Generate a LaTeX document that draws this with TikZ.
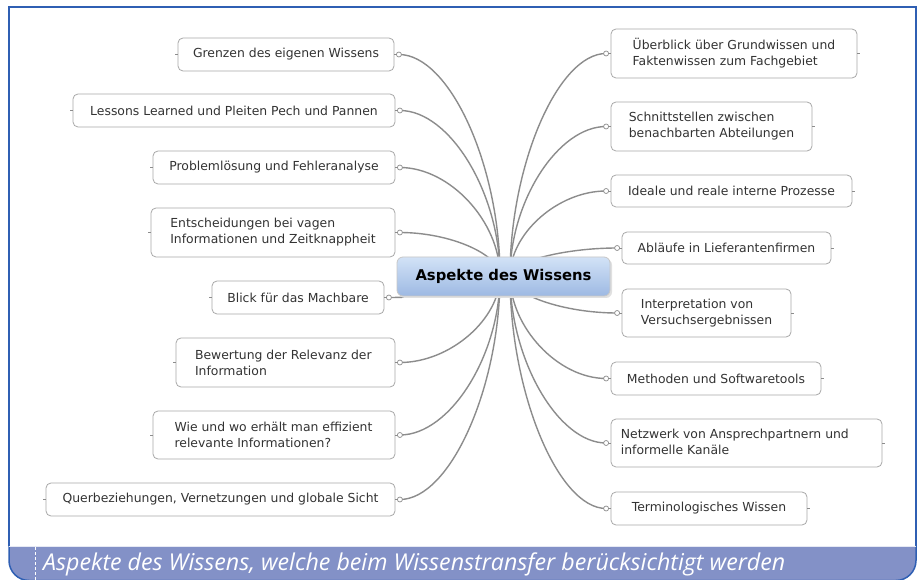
\documentclass[tikz,border=0pt]{standalone}
\usepackage{fontspec}
\usetikzlibrary{calc}
\newfontfamily\boxfont{DejaVu Sans}
\newfontfamily\capfont{Open Sans}
\definecolor{framecol}{HTML}{2F5FB3}
\definecolor{bandcol}{HTML}{8391C7}
\definecolor{conncol}{HTML}{8C8C8C}
\definecolor{boxborder}{HTML}{A8A8A8}
\definecolor{txtcol}{HTML}{333333}
\definecolor{centtop}{HTML}{D2E2F6}
\definecolor{centbot}{HTML}{9DB9E3}
\tikzset{
  mbox/.style={draw=boxborder, line width=0.8pt, fill=white, rounded corners=5pt,
    inner sep=0pt, align=left, text=txtcol,
    font=\boxfont\fontsize{12.4}{16}\selectfont},
  conn/.style={draw=conncol, line width=1.4pt},
  stub/.style={draw=conncol, line width=0.8pt},
  dotnode/.style={circle, draw=conncol, fill=white, line width=0.7pt, inner sep=0pt, minimum size=5pt},
}
\begin{document}
\begin{tikzpicture}[x=1pt,y=-1pt]
\useasboundingbox (0,0) rectangle (922,580);
% frame
\fill[white] (9,7) rectangle (916,546);
% central coordinates
\coordinate (cl) at (500,276);
\coordinate (cr) at (510,276);
% left boxes
\node[mbox, minimum width=216pt, minimum height=33pt] (l1) at (286,54.5) {Grenzen des eigenen Wissens};
\node[mbox, minimum width=322pt, minimum height=33pt] (l2) at (234,110.5) {Lessons Learned und Pleiten Pech und Pannen};
\node[mbox, minimum width=242pt, minimum height=33pt] (l3) at (274,167.5) {Problemlösung und Fehleranalyse};
\node[mbox, minimum width=244pt, minimum height=49pt] (l4) at (273,232.5) {Entscheidungen bei vagen\\Informationen und Zeitknappheit};
\node[mbox, minimum width=172pt, minimum height=33pt] (l5) at (298,297.5) {Blick für das Machbare};
\node[mbox, minimum width=219pt, minimum height=49pt] (l6) at (285.5,362.5) {Bewertung der Relevanz der\\Information\phantom{ der Relevanz der}};
\node[mbox, minimum width=242pt, minimum height=48pt] (l7) at (274,435) {Wie und wo erhält man effizient\\relevante Informationen?\phantom{ffizient}};
\node[mbox, minimum width=349pt, minimum height=33pt] (l8) at (220.5,499.5) {Querbeziehungen, Vernetzungen und globale Sicht};
% right boxes
\node[mbox, minimum width=246pt, minimum height=49pt] (r1) at (734,53.5) {Überblick über Grundwissen und\\Faktenwissen zum Fachgebiet};
\node[mbox, minimum width=201pt, minimum height=49pt] (r2) at (711.5,126.5) {Schnittstellen zwischen\\benachbarten Abteilungen};
\node[mbox, minimum width=241pt, minimum height=32pt] (r3) at (731.5,191) {Ideale und reale interne Prozesse};
\node[mbox, minimum width=209pt, minimum height=32pt] (r4) at (726.5,248) {Abläufe in Lieferantenfirmen};
\node[mbox, minimum width=169pt, minimum height=48pt] (r5) at (706.5,313) {Interpretation von\\Versuchsergebnissen};
\node[mbox, minimum width=210pt, minimum height=33pt] (r6) at (716,378.5) {Methoden und Softwaretools};
\node[mbox, minimum width=271pt, minimum height=48pt] (r7) at (746.5,443) {Netzwerk von Ansprechpartnern und\\informelle Kanäle\phantom{ Ansprechpartnern und}};
\node[mbox, minimum width=196pt, minimum height=33pt] (r8) at (709,508.5) {Terminologisches Wissen};
% connectors
\foreach \n in {l1,l2,l3,l4,l5,l6,l7,l8}{
  \coordinate (\n d) at ($(\n.east)+(4.5,0)$);
  \draw[conn] (cl) .. controls ($(cl)!0.5!(cl|-\n d)$) and ($(\n d)!0.5!(\n d-|cl)$) .. (\n d);
  \draw[stub] (\n.east) -- (\n d);
  \draw[stub] (\n.west) -- ++(-3,0);
  \node[dotnode] at (\n d) {};
}
\foreach \n in {r1,r2,r3,r4,r5,r6,r7,r8}{
  \coordinate (\n d) at ($(\n.west)+(-4.5,0)$);
  \draw[conn] (cr) .. controls ($(cr)!0.5!(cr|-\n d)$) and ($(\n d)!0.5!(\n d-|cr)$) .. (\n d);
  \draw[stub] (\n.west) -- (\n d);
  \draw[stub] (\n.east) -- ++(3,0);
  \node[dotnode] at (\n d) {};
}
% central node
\fill[black!12, rounded corners=6pt] (399,259) rectangle (612,298);
\node[draw=black!22, line width=0.8pt, rounded corners=6pt, top color=centtop, bottom color=centbot,
  minimum width=213pt, minimum height=39pt, inner sep=0pt,
  font=\boxfont\bfseries\fontsize{14.8}{16}\selectfont] (cen) at (503.5,276.5) {Aspekte des Wissens};
% band
\path[fill=bandcol] (9,546) -- (9,560) [rounded corners=20pt] -- (9,580.5) -- (916,580.5) [sharp corners] -- (916,546) -- cycle;
\draw[framecol, line width=1.5pt] (9,546) -- (9,7) -- (916,7) -- (916,546);
\draw[framecol, line width=1.5pt, rounded corners=20pt] (9,540) -- (9,580.5) -- (916,580.5) -- (916,540);
\draw[white, line width=0.8pt, dash pattern=on 3pt off 2pt] (35,547) -- (35,580);
\draw[white!80!bandcol, line width=0.6pt] (9,546) -- (916,546);
\node[anchor=west, text=white, inner sep=0pt, font=\capfont\itshape\fontsize{23.2}{26}\selectfont] (cap) at (43,564) {Aspekte des Wissens, welche beim Wissenstransfer berücksichtigt werden};
\end{tikzpicture}
\end{document}
